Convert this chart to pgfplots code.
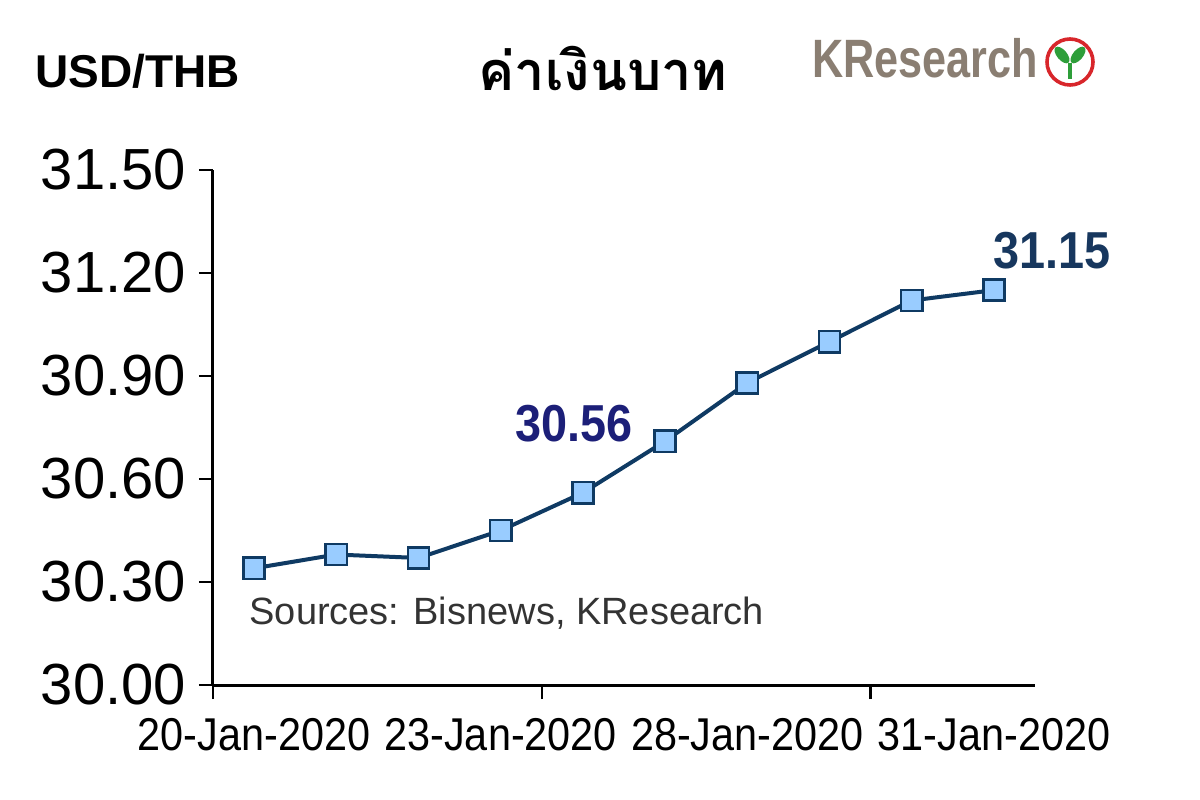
\documentclass[border=0pt]{standalone}
\usepackage{pgfplots}
\pgfplotsset{compat=1.18}
\usepackage{fontspec}
\setmainfont{Liberation Sans}
\newfontfamily\narrowfont{Liberation Sans}[FakeStretch=0.9]
\newfontfamily\logofont{Liberation Sans}[FakeStretch=0.8]
\newfontfamily\semifont{Liberation Sans}[FakeStretch=0.9]
\newfontfamily\thaifont[Script=Thai]{Loma}
\definecolor{linec}{HTML}{0F3A63}
\definecolor{markc}{HTML}{99CCFF}
\definecolor{labA}{HTML}{1C1F78}
\definecolor{labB}{HTML}{17375E}
\definecolor{krgray}{HTML}{8A7E72}
\definecolor{kgreen}{HTML}{2E9E3A}
\definecolor{kred}{HTML}{D8262B}
\begin{document}
\begin{tikzpicture}
\path[use as bounding box] (-106.5bp,-57.5bp) rectangle (493.5bp,342.5bp);
\begin{axis}[
  at={(0,0)}, anchor=south west,
  width=411bp, height=257.5bp, scale only axis,
  xmin=-0.5, xmax=9.5, ymin=30, ymax=31.5,
  clip=false,
  axis x line*=bottom, axis y line*=left,
  axis line style={line width=1.5bp, black},
  tick align=outside, major tick length=7bp,
  tick style={line width=1.2bp, black},
  ytick={30,30.3,30.6,30.9,31.2,31.5},
  /pgf/number format/assume math mode=true,
  yticklabel style={font=\fontsize{29bp}{29bp}\selectfont, /pgf/number format/fixed, /pgf/number format/fixed zerofill, /pgf/number format/precision=2, xshift=-3bp},
  xtick={-0.5,3.5,7.5}, xticklabels={},
  extra x ticks={0,3,6,9},
  extra x tick labels={20-Jan-2020,23-Jan-2020,28-Jan-2020,31-Jan-2020},
  extra x tick style={major tick length=0pt, xticklabel style={font=\narrowfont\fontsize{23bp}{23bp}\selectfont, yshift=-13bp}},
]
\addplot[color=linec, line width=2bp, mark=square*, mark size=5.3bp,
  mark options={fill=markc, draw=linec, line width=1.3bp}]
  coordinates {(0,30.34) (1,30.38) (2,30.37) (3,30.45) (4,30.56) (5,30.71) (6,30.88) (7,31.00) (8,31.12) (9,31.15)};
\node[font=\semifont\bfseries\fontsize{26bp}{26bp}\selectfont, text=labA] at (axis cs:3.89,30.76) {30.56};
\node[font=\semifont\bfseries\fontsize{26bp}{26bp}\selectfont, text=labB] at (axis cs:9.71,31.264) {31.15};
\node[anchor=base west, inner sep=0pt, font=\fontsize{19bp}{19bp}\selectfont, text=black!80] at (axis cs:-0.06,30.175) {Sources: Bisnews, KResearch};
\end{axis}
\node[anchor=base west, inner sep=0pt, font=\bfseries\fontsize{23bp}{23bp}\selectfont] at (-89bp,298.5bp) {USD/THB};
\node[anchor=base, inner sep=0pt, font=\thaifont\bfseries\fontsize{27bp}{27bp}\selectfont] at (195bp,297bp) {ค่าเงินบาท};
\node[anchor=base west, inner sep=0pt, font=\logofont\bfseries\fontsize{27bp}{27bp}\selectfont, text=krgray] at (299.5bp,303.5bp) {KResearch};
\draw[kred, line width=1.8bp, fill=white] (428.5bp,311.5bp) circle (11.5bp);
\draw[kgreen, line width=2.2bp] (428.5bp,303bp) -- (428.5bp,311bp);
\fill[kgreen, rotate around={-50:(424.5bp,315bp)}] (424.5bp,315bp) ellipse (5bp and 2.5bp);
\fill[kgreen, rotate around={50:(432.5bp,315bp)}] (432.5bp,315bp) ellipse (5bp and 2.5bp);
\end{tikzpicture}
\end{document}
